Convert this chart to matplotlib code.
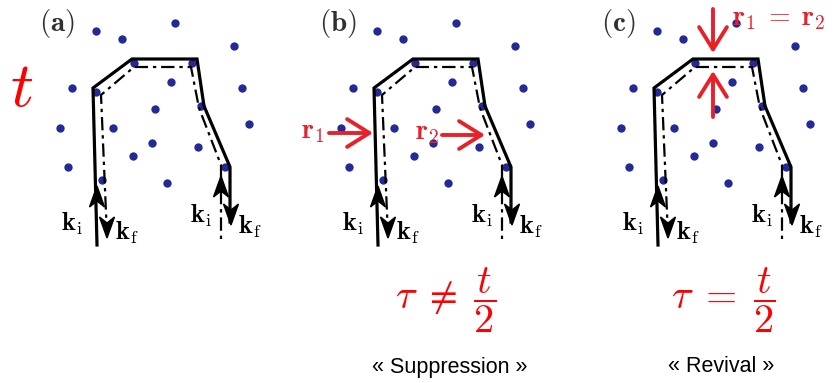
import matplotlib
matplotlib.use('Agg')
import matplotlib.pyplot as plt
from matplotlib.patches import Polygon

plt.rcParams['mathtext.fontset'] = 'cm'

# panel offsets (pixels) for (a), (b), (c)
panel_x = [0, 281, 561]
panel_tags = ['a', 'b', 'c']

# scatterers, panel (a) pixel coords
dots_x = [96, 175, 122, 234, 134, 192, 72, 171, 242, 96, 155, 201, 60, 113, 249, 152, 198, 133, 68, 225, 102, 167]
dots_y = [31, 23, 39, 46, 63, 63, 88, 82, 88, 92, 109, 106, 128, 128, 124, 143, 147, 156, 167, 167, 180, 183]

# direct path (solid) and reversed path (dash-dot)
solid_x = [97, 93, 132, 197, 204, 230, 230]
solid_y = [245, 88, 59, 59, 106, 167, 222]
dashdot_x = [107, 101, 134, 191, 199, 221, 221]
dashdot_y = [236, 95, 67, 67, 108, 165, 240]

# arrow heads: (x, tip_y, direction) direction -1 = up, +1 = down
heads = [(97, 186, -1), (107, 238, 1), (221, 176, -1), (231, 225, 1)]

# k labels (x, y, text)
k_labels = [(72, 224, r'$\mathbf{k}_\mathrm{i}$'), (127, 233, r'$\mathbf{k}_\mathrm{f}$'),
            (201, 216, r'$\mathbf{k}_\mathrm{i}$'), (250, 227, r'$\mathbf{k}_\mathrm{f}$')]

red = '#e8202a'
blue = '#232a96'

fig = plt.figure(figsize=(8.34, 3.83), dpi=100)
ax = fig.add_axes([0, 0, 1, 1])
ax.set_xlim(0, 834)
ax.set_ylim(383, 0)
ax.axis('off')


def stealth(x, tip, d):
    # concave arrow head pointing up (d=-1) or down (d=1)
    pts = [(x, tip), (x - 7.5, tip - d * 21), (x, tip - d * 15), (x + 7.5, tip - d * 21)]
    ax.add_patch(Polygon(pts, closed=True, color='black', zorder=3))


for off, tag in zip(panel_x, panel_tags):
    ax.plot([x + off for x in dots_x], dots_y, 'o', color=blue, ms=6, mec='none', zorder=1)
    ax.plot([x + off for x in solid_x], solid_y, color='black', lw=2.3, solid_joinstyle='miter', zorder=2)
    ax.plot([x + off for x in dashdot_x], dashdot_y, color='black', lw=1.6,
            linestyle=(0, (6, 2.2, 1.5, 2.2)), zorder=2)
    for hx, ty, d in heads:
        stealth(hx + off, ty, d)
    for lx, ly, s in k_labels:
        ax.text(lx + off, ly, s, fontsize=19, ha='center', va='center')
    ax.text(57 + off, 24, r'$(\mathbf{' + tag + '})$', fontsize=21, color='#303030',
            ha='center', va='center')

# time label
ax.text(22, 88, r'$t$', fontsize=46, color='red', ha='center', va='center')

# red arrows, panel (b)
red_arrow = dict(arrowstyle='->,head_length=0.8,head_width=0.5', color=red, lw=2.8,
                 mutation_scale=20, shrinkA=0, shrinkB=0)
ax.annotate('', xy=(373, 133), xytext=(329, 133), arrowprops=red_arrow)
ax.text(313, 131, r'$\mathbf{r}_1$', fontsize=20, color=red, ha='center', va='center')
ax.annotate('', xy=(485, 135), xytext=(442, 135), arrowprops=red_arrow)
ax.text(427, 132, r'$\mathbf{r}_2$', fontsize=20, color=red, ha='center', va='center')

# red arrows, panel (c)
ax.annotate('', xy=(713, 53), xytext=(713, 9), arrowprops=red_arrow)
ax.annotate('', xy=(713, 71), xytext=(713, 117), arrowprops=red_arrow)
ax.text(779, 18, r'$\mathbf{r}_1\;=\;\mathbf{r}_2$', fontsize=20, color=red, ha='center', va='center')

# bottom formulas and captions
ax.text(446, 300, r'$\tau\;\neq\;\dfrac{t}{2}$', fontsize=29, color='red', ha='center', va='center')
ax.text(723, 300, r'$\tau\;=\;\dfrac{t}{2}$', fontsize=29, color='red', ha='center', va='center')
ax.text(450, 367, '« Suppression »', fontsize=15.5, family='Liberation Sans', ha='center', va='center')
ax.text(721, 367, '« Revival »', fontsize=15.5, family='Liberation Sans', ha='center', va='center')

fig.savefig('out.png', dpi=100)
